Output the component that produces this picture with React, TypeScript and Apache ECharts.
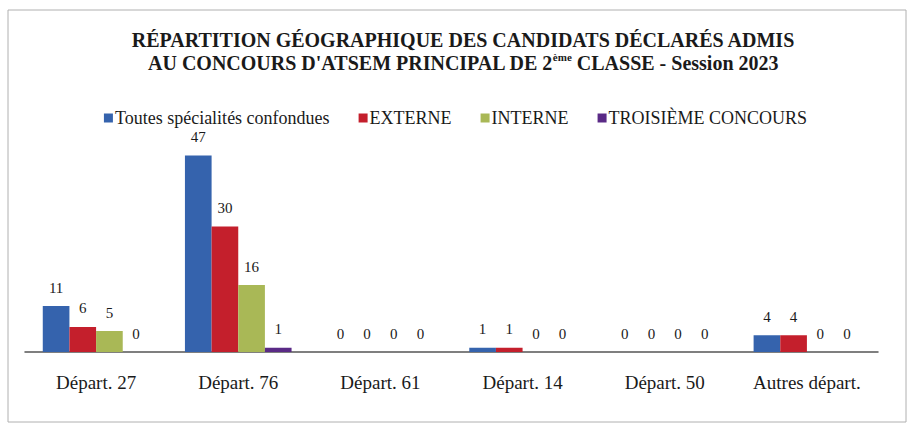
import React, { useEffect, useRef } from "react";
import * as echarts from "echarts";

const categories = ["Départ. 27", "Départ. 76", "Départ. 61", "Départ. 14", "Départ. 50", "Autres départ."];
const seriesNames = ["Toutes spécialités confondues", "EXTERNE", "INTERNE", "TROISIÈME CONCOURS"];
const toutes = [11, 47, 0, 1, 0, 4];
const externe = [6, 30, 0, 1, 0, 4];
const interne = [5, 16, 0, 0, 0, 0];
const troisieme = [0, 1, 0, 0, 0, 0];
const colors = ["#3563ad", "#c41f2c", "#a9b856", "#5a2a86"];

const FONT = "Liberation Serif";

export default function App() {
  const ref = useRef<HTMLDivElement>(null);
  useEffect(() => {
    if (!ref.current) return;
    const chart = echarts.init(ref.current, undefined, { renderer: "svg" });
    const values = [toutes, externe, interne, troisieme];
    chart.setOption({
      animation: false,
      backgroundColor: "#ffffff",
      textStyle: { fontFamily: FONT },
      title: {
        text: "RÉPARTITION GÉOGRAPHIQUE DES CANDIDATS DÉCLARÉS ADMIS\nAU CONCOURS D'ATSEM PRINCIPAL DE 2{sup|ème} CLASSE - Session 2023",
        left: 458,
        textAlign: "center",
        top: 23,
        textStyle: {
          fontFamily: FONT,
          fontWeight: "bold",
          fontSize: 20,
          color: "#1a1a1a",
          lineHeight: 23,
          rich: {
            sup: { fontFamily: FONT, fontWeight: "bold", fontSize: 11, color: "#1a1a1a", verticalAlign: "top", padding: [0, 0, 9, 0] },
          },
        },
      },
      legend: {
        top: 104,
        left: "center",
        itemWidth: 9,
        itemHeight: 9,
        itemGap: 29,
        icon: "rect",
        textStyle: { fontFamily: FONT, fontSize: 18, color: "#1a1a1a", padding: [0, 0, 0, -3] },
        data: seriesNames,
      },
      grid: { left: 25, right: 33, top: 143, bottom: 73 },
      xAxis: {
        type: "category",
        data: categories,
        axisLine: { lineStyle: { color: "#555", width: 1.5 } },
        axisTick: { show: false },
        axisLabel: { fontFamily: FONT, fontSize: 19, color: "#1a1a1a", margin: 21 },
      },
      yAxis: {
        type: "value",
        min: 0,
        max: 50,
        show: false,
        splitLine: { show: false },
      },
      series: seriesNames.map((name, i) => ({
        name,
        type: "bar",
        data: values[i],
        barGap: "0%",
        barCategoryGap: "25%",
        itemStyle: { color: colors[i] },
        label: {
          show: true,
          position: "top",
          distance: 11,
          fontFamily: FONT,
          fontSize: 15,
          color: "#1a1a1a",
        },
      })),
      graphic: [
        {
          type: "rect",
          shape: { x: 8, y: 10, width: 898, height: 412 },
          style: { fill: "none", stroke: "#b0b0b0", lineWidth: 1 },
          silent: true,
        },
      ],
    });
    return () => chart.dispose();
  }, []);
  return (
    <div
      ref={ref}
      style={{ position: "fixed", left: 0, top: 0, width: 911, height: 425 }}
    />
  );
}
